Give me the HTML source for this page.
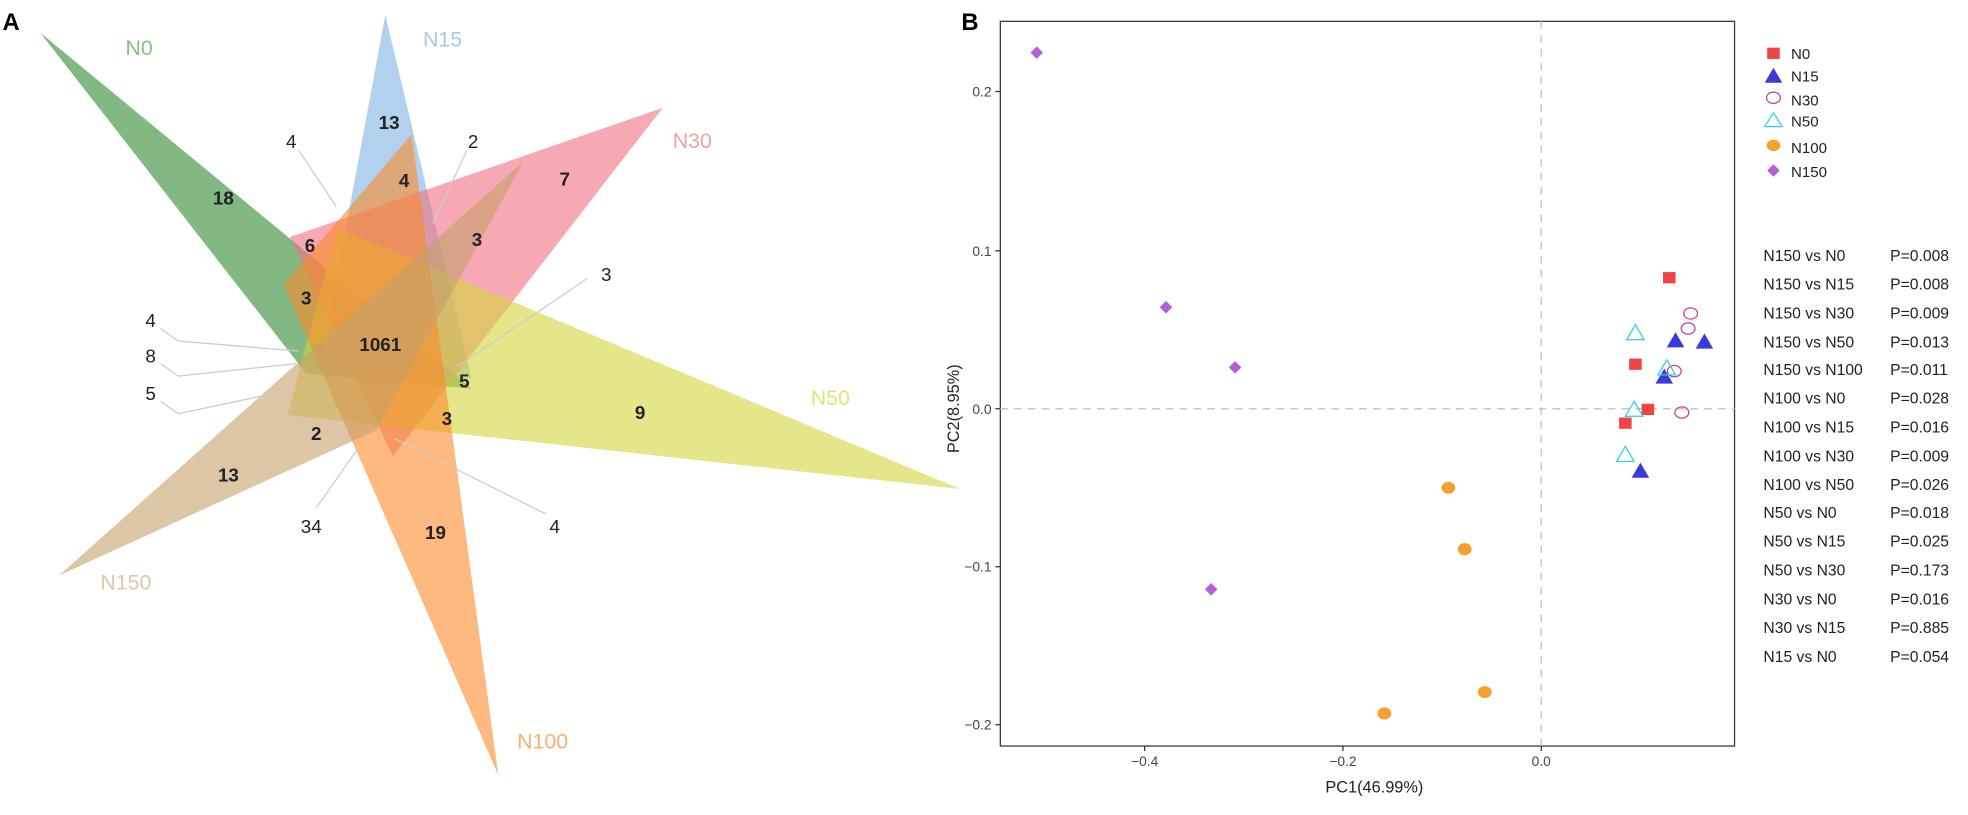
<!DOCTYPE html>
<html><head><meta charset="utf-8"><style>html,body{margin:0;padding:0;background:#fff}svg{display:block}</style></head>
<body>
<svg width="1968" height="815" viewBox="0 0 1568 650" preserveAspectRatio="none" xmlns="http://www.w3.org/2000/svg" font-family="Liberation Sans, sans-serif">
<rect width="1568" height="650" fill="#fff"/>
<text x="2" y="24" font-size="19" font-weight="bold">A</text>
<text x="766" y="24" font-size="19" font-weight="bold">B</text>
<g fill-opacity="0.6">
<polygon points="32,26 376,310 244,298" fill="#2e8b2e"/>
<polygon points="307,12 254,298 376,302" fill="#7fb3e3"/>
<polygon points="528,86 231,189 313,364" fill="#f07080"/>
<polygon points="765,390 269,182 229,331" fill="#d4d63a"/>
<polygon points="397,618 328,107 226,227" fill="#fb8a2a"/>
<polygon points="47,459 417,129 300,343" fill="#c4a06a"/>
</g>
<g stroke="#ccc" stroke-width="1" fill="none">
<line x1="238" y1="120" x2="268" y2="165"/>
<line x1="372" y1="120" x2="345" y2="178"/>
<line x1="468" y1="222" x2="365" y2="292"/>
<line x1="128" y1="262" x2="142" y2="272"/><line x1="142" y1="272" x2="238" y2="280"/>
<line x1="128" y1="290" x2="142" y2="300"/><line x1="142" y1="300" x2="236" y2="290"/>
<line x1="128" y1="320" x2="142" y2="330"/><line x1="142" y1="330" x2="236" y2="310"/>
<line x1="252" y1="405" x2="285" y2="358"/>
<line x1="435" y1="410" x2="315" y2="350"/>
</g>
<g font-size="15" font-weight="bold" fill="#222" text-anchor="middle">
<text x="178" y="163">18</text><text x="310" y="103">13</text><text x="322" y="149">4</text>
<text x="450" y="148">7</text><text x="247" y="201">6</text><text x="380" y="196">3</text>
<text x="244" y="243">3</text><text x="303" y="280">1061</text><text x="370" y="309">5</text>
<text x="510" y="334">9</text><text x="356" y="339">3</text><text x="252" y="351">2</text>
<text x="182" y="384">13</text><text x="347" y="430">19</text>
</g>
<g font-size="15" fill="#222" text-anchor="middle">
<text x="232" y="118">4</text><text x="377" y="118">2</text><text x="483" y="224">3</text>
<text x="120" y="261">4</text><text x="120" y="289">8</text><text x="120" y="319">5</text>
<text x="248" y="425">34</text><text x="442" y="425">4</text>
</g>
<g font-size="17">
<text x="100" y="44" fill="#80c080">N0</text>
<text x="337" y="37" fill="#a8c8ea">N15</text>
<text x="536" y="118" fill="#f4a0a8">N30</text>
<text x="646" y="323" fill="#e2e27a">N50</text>
<text x="412" y="597" fill="#fbb070">N100</text>
<text x="80" y="470" fill="#dcc8a4">N150</text>
</g>
<!-- Panel B -->
<rect x="797" y="17" width="585" height="578" fill="none" stroke="#333" stroke-width="1"/>
<g stroke="#c8c8c8" stroke-width="1.2" stroke-dasharray="6,5">
<line x1="1228" y1="17" x2="1228" y2="595"/>
<line x1="797" y1="326" x2="1382" y2="326"/>
</g>
<g stroke="#333" stroke-width="1">
<line x1="912" y1="595" x2="912" y2="599"/><line x1="1070" y1="595" x2="1070" y2="599"/><line x1="1228" y1="595" x2="1228" y2="599"/>
<line x1="793" y1="73" x2="797" y2="73"/><line x1="793" y1="200" x2="797" y2="200"/><line x1="793" y1="326" x2="797" y2="326"/><line x1="793" y1="452" x2="797" y2="452"/><line x1="793" y1="578" x2="797" y2="578"/>
</g>
<g font-size="11" fill="#444">
<g text-anchor="middle"><text x="912" y="611">−0.4</text><text x="1070" y="611">−0.2</text><text x="1228" y="611">0.0</text></g>
<g text-anchor="end"><text x="790" y="77">0.2</text><text x="790" y="204">0.1</text><text x="790" y="330">0.0</text><text x="790" y="456">−0.1</text><text x="790" y="582">−0.2</text></g>
</g>
<text x="1095" y="632" font-size="13" text-anchor="middle" fill="#222">PC1(46.99%)</text>
<text transform="translate(764,326) rotate(-90)" font-size="13" text-anchor="middle" fill="#222">PC2(8.95%)</text>
<!-- points -->
<g fill="#b060d8"><polygon points="826,37 831,42 826,47 821,42"/><polygon points="929,240 934,245 929,250 924,245"/><polygon points="984,288 989,293 984,298 979,293"/><polygon points="965,465 970,470 965,475 960,470"/></g>
<g fill="#f5a030"><ellipse cx="1154" cy="389" rx="5.5" ry="4.8"/><ellipse cx="1167" cy="438" rx="5.5" ry="4.8"/><ellipse cx="1183" cy="552" rx="5.5" ry="4.8"/><ellipse cx="1103" cy="569" rx="5.5" ry="4.8"/></g>
<g fill="#f04444"><rect x="1325" y="217" width="10" height="9"/><rect x="1298" y="286" width="10" height="9"/><rect x="1308" y="322" width="10" height="9"/><rect x="1290" y="333" width="10" height="9"/></g>
<g fill="#3a3ad8"><polygon points="1335,265 1342,277 1328,277"/><polygon points="1358,266 1365,278 1351,278"/><polygon points="1326,294 1333,306 1319,306"/><polygon points="1307,369 1314,381 1300,381"/></g>
<g fill="none" stroke="#c040a0" stroke-width="1"><ellipse cx="1347" cy="250" rx="5.5" ry="4.5"/><ellipse cx="1345" cy="262" rx="5.5" ry="4.5"/><ellipse cx="1334" cy="296" rx="5.5" ry="4.5"/><ellipse cx="1340" cy="329" rx="5.5" ry="4.5"/></g>
<g fill="none" stroke="#30d0e8" stroke-width="1"><polygon points="1303,259 1310,271 1296,271"/><polygon points="1328,287 1335,299 1321,299"/><polygon points="1302,320 1309,332 1295,332"/><polygon points="1295,356 1302,368 1288,368"/></g>
<!-- legend -->
<rect x="1408" y="38" width="10" height="9" fill="#f04444"/>
<polygon points="1413,54 1420,66 1406,66" fill="#3a3ad8"/>
<ellipse cx="1413" cy="78" rx="5.5" ry="4.5" fill="none" stroke="#c040a0"/>
<polygon points="1413,90 1420,101 1406,101" fill="none" stroke="#30d0e8"/>
<ellipse cx="1413" cy="116" rx="5.5" ry="4.5" fill="#f5a030"/>
<polygon points="1413,131 1418,136 1413,141 1408,136" fill="#b060d8"/>
<g font-size="12" fill="#222">
<text x="1427" y="47">N0</text><text x="1427" y="65">N15</text><text x="1427" y="84">N30</text><text x="1427" y="101">N50</text><text x="1427" y="122">N100</text><text x="1427" y="141">N150</text>
</g>
<g font-size="12.5" fill="#222">
<text x="1405" y="208">N150 vs N0</text><text x="1506" y="208">P=0.008</text>
<text x="1405" y="231">N150 vs N15</text><text x="1506" y="231">P=0.008</text>
<text x="1405" y="254">N150 vs N30</text><text x="1506" y="254">P=0.009</text>
<text x="1405" y="277">N150 vs N50</text><text x="1506" y="277">P=0.013</text>
<text x="1405" y="299">N150 vs N100</text><text x="1506" y="299">P=0.011</text>
<text x="1405" y="322">N100 vs N0</text><text x="1506" y="322">P=0.028</text>
<text x="1405" y="345">N100 vs N15</text><text x="1506" y="345">P=0.016</text>
<text x="1405" y="368">N100 vs N30</text><text x="1506" y="368">P=0.009</text>
<text x="1405" y="391">N100 vs N50</text><text x="1506" y="391">P=0.026</text>
<text x="1405" y="413">N50 vs N0</text><text x="1506" y="413">P=0.018</text>
<text x="1405" y="436">N50 vs N15</text><text x="1506" y="436">P=0.025</text>
<text x="1405" y="459">N50 vs N30</text><text x="1506" y="459">P=0.173</text>
<text x="1405" y="482">N30 vs N0</text><text x="1506" y="482">P=0.016</text>
<text x="1405" y="505">N30 vs N15</text><text x="1506" y="505">P=0.885</text>
<text x="1405" y="528">N15 vs N0</text><text x="1506" y="528">P=0.054</text>
</g>
</svg>
</body></html>
